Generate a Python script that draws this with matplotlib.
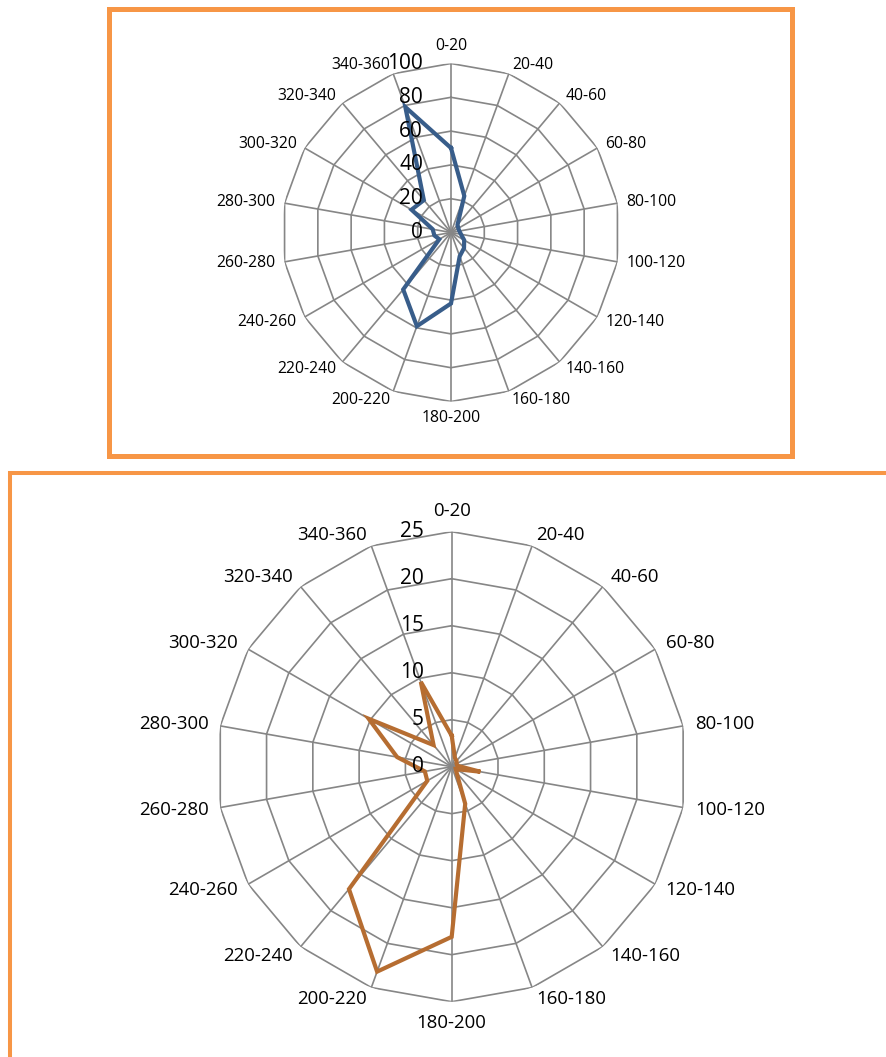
import numpy as np
import matplotlib
matplotlib.use('Agg')
import matplotlib.pyplot as plt
from matplotlib.lines import Line2D
from matplotlib.transforms import offset_copy

plt.rcParams['font.family'] = ['Open Sans', 'DejaVu Sans']

# sectors (degrees) shared by both radar charts
sectors = ['0-20', '20-40', '40-60', '60-80', '80-100', '100-120', '120-140',
           '140-160', '160-180', '180-200', '200-220', '220-240', '240-260',
           '260-280', '280-300', '300-320', '320-340', '340-360']

# values
top_values = [50, 23, 6, 5, 5, 6, 9, 12, 15, 42, 59, 44, 8, 10, 11, 27, 25, 79]
bottom_values = [3.3, 1.0, 0.8, 0.6, 0.6, 3.1, 0.5, 0.8, 4.2, 18.1, 23.2, 17.0,
                 3.0, 2.9, 5.9, 10.2, 3.0, 9.6]
top_ticks = [0, 20, 40, 60, 80, 100]
bottom_ticks = [0, 5, 10, 15, 20, 25]

W, H = 887, 1057
fig = plt.figure(figsize=(W / 100, H / 100), dpi=100)

GRID = '#868686'


def radar(cx, cy, rad, values, ticks, color, label_size, tick_size, gap):
    ax = fig.add_axes([(cx - rad) / W, (H - cy - rad) / H, 2 * rad / W, 2 * rad / H],
                      projection='polar')
    n = len(sectors)
    theta = np.deg2rad(np.arange(n) * 360 / n)
    rmax = ticks[-1]
    ax.set_theta_zero_location('N')
    ax.set_theta_direction(-1)
    ax.set_ylim(0, rmax)
    ax.grid(False)
    ax.spines['polar'].set_visible(False)
    ax.set_xticks([])
    ax.set_yticks([])
    ax.patch.set_alpha(0)

    closed = np.append(theta, theta[0])
    for t in ticks[1:]:
        ax.plot(closed, [t] * (n + 1), color=GRID, lw=1.2, zorder=1)
    for a in theta:
        ax.plot([a, a], [0, rmax], color=GRID, lw=1.2, zorder=1)

    ax.plot(closed, list(values) + [values[0]], color=color, lw=3,
            zorder=3, solid_joinstyle='miter')

    # value axis labels to the left of the vertical spoke
    trans = offset_copy(ax.transData, fig=fig, x=-28, y=0, units='dots')
    for t in ticks:
        ax.text(0, t, str(t), transform=trans, ha='right', va='center',
                fontsize=tick_size, color='black', zorder=4)

    # category labels around the outside
    for a, lab in zip(theta, sectors):
        s, c = np.sin(a), np.cos(a)
        ha = 'center' if abs(s) < 0.05 else ('left' if s > 0 else 'right')
        va = 'bottom' if c > 0.95 else ('top' if c < -0.95 else 'center')
        tr = offset_copy(ax.transData, fig=fig, x=gap * s, y=gap * c, units='dots')
        ax.text(a, rmax, lab, transform=tr, ha=ha, va=va,
                fontsize=label_size, color='black')
    return ax


radar(451, 232.5, 169, top_values, top_ticks, '#385D8A', 11.3, 15, 9)
radar(451.7, 766.7, 235, bottom_values, bottom_ticks, '#B66D31', 13.4, 15, 12)


def fig_line(xs, ys, lw):
    fig.add_artist(Line2D([x / W for x in xs], [1 - y / H for y in ys],
                          transform=fig.transFigure, color='#F79646', lw=lw,
                          solid_joinstyle='miter'))


# chart frames
fig_line([109, 792.5, 792.5, 109, 109], [8.7, 8.7, 455.5, 455.5, 8.7], 3.6)
fig_line([10.5, 10.5, 887], [1060, 473.5, 473.5], 2.9)

fig.savefig('out.png', dpi=100)
